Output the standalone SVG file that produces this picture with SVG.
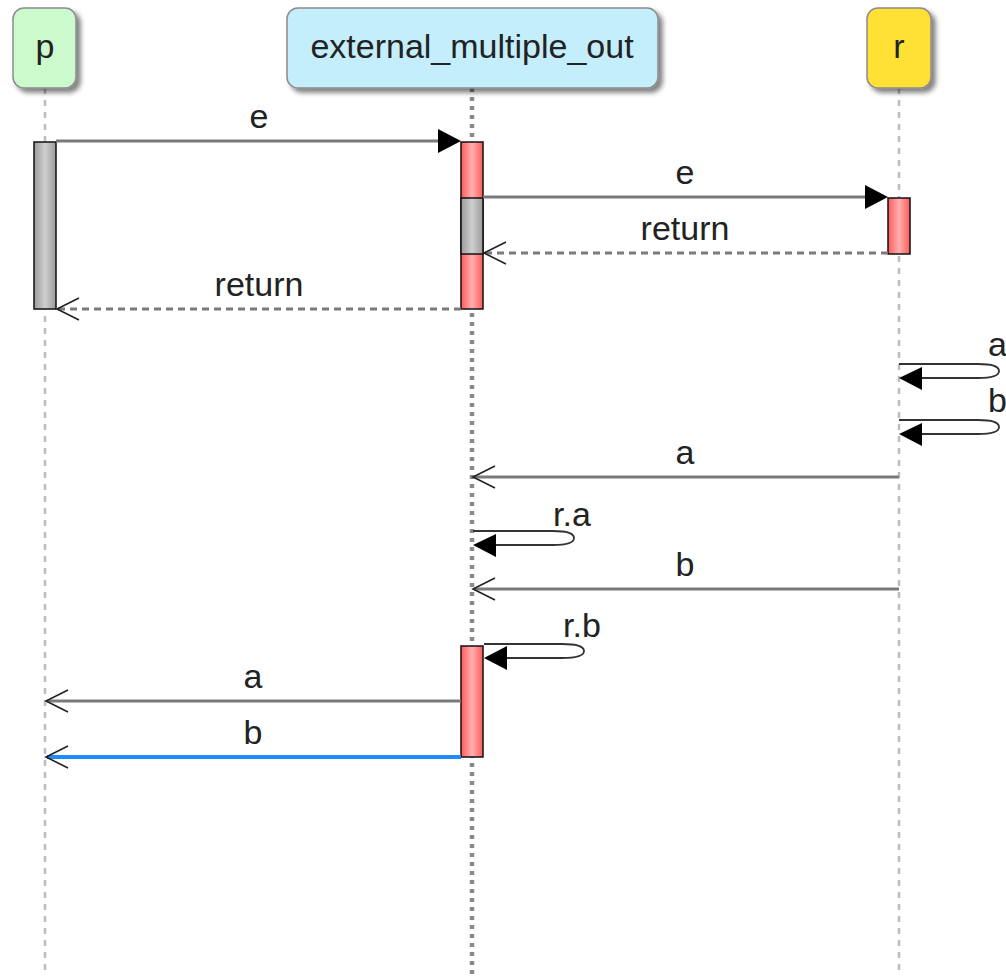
<svg xmlns="http://www.w3.org/2000/svg" width="1006" height="976" viewBox="0 0 1006 976">
<style>
text{font-family:"Liberation Sans",Arial,sans-serif;fill:#222;}
.pt{font-size:34px;text-anchor:middle;}
.lb{font-size:34px;text-anchor:middle;}
.box{stroke:#8c8c8c;stroke-width:1.5;filter:url(#sh);}
.ll{fill:none;stroke:#bdbdbd;stroke-width:2.5;stroke-dasharray:6,6;}
.llx{fill:none;stroke:#8a8a8a;stroke-width:4.5;stroke-dasharray:4,5;}
.msg{fill:none;stroke:#7a7a7a;stroke-width:3;}
.ret{fill:none;stroke:#7a7a7a;stroke-width:3;stroke-dasharray:7,5;}
.open{fill:none;stroke:#222;stroke-width:1.6;}
.tri{fill:#000;}
.loop{fill:none;stroke:#333;stroke-width:1.8;}
.actr{fill:url(#gr);stroke:#111;stroke-width:1.5;}
.actg{fill:url(#gg);stroke:#111;stroke-width:1.5;}
</style>
<defs>
<filter id="sh" x="-20%" y="-20%" width="150%" height="150%">
<feGaussianBlur in="SourceAlpha" stdDeviation="2.5"/>
<feOffset dx="4" dy="4" result="b"/>
<feComponentTransfer><feFuncA type="linear" slope="0.5"/></feComponentTransfer>
<feMerge><feMergeNode/><feMergeNode in="SourceGraphic"/></feMerge>
</filter>
<linearGradient id="gr" x1="0" y1="0" x2="1" y2="0">
<stop offset="0" stop-color="#ff5a5a"/><stop offset="0.5" stop-color="#ffb0b0"/><stop offset="1" stop-color="#ff5a5a"/>
</linearGradient>
<linearGradient id="gg" x1="0" y1="0" x2="1" y2="0">
<stop offset="0" stop-color="#9a9a9a"/><stop offset="0.5" stop-color="#cfcfcf"/><stop offset="1" stop-color="#9a9a9a"/>
</linearGradient>
</defs>
<rect width="1006" height="976" fill="#fff"/>
<g id="lifelines">
<line class="ll" x1="45" y1="88" x2="45" y2="976"/>
<line class="llx" x1="472" y1="88" x2="472" y2="976"/>
<line class="ll" x1="899" y1="88" x2="899" y2="976"/>
</g>
<g id="p">
<rect class="box" x="13" y="8" width="63" height="80" rx="11" fill="#cdfacd"/>
<text class="pt" x="45" y="58">p</text>
</g>
<g id="external_multiple_out">
<rect class="box" x="287" y="8" width="371" height="80" rx="11" fill="#c4eefc"/>
<text class="pt" x="472" y="58">external_multiple_out</text>
</g>
<g id="r">
<rect class="box" x="867" y="8" width="64" height="80" rx="11" fill="#ffe135"/>
<text class="pt" x="899" y="58">r</text>
</g>
<g id="activations">
<rect class="actg" x="34" y="142" width="22" height="167"/>
<rect class="actr" x="461" y="142" width="22" height="167"/>
<rect class="actg" x="461" y="198" width="22" height="56"/>
<rect class="actr" x="888" y="198" width="22" height="56"/>
<rect class="actr" x="461" y="646" width="22" height="111"/>
</g>
<g id="connectors">
<line class="msg" x1="56" y1="141" x2="440" y2="141"/>
<polygon class="tri" points="461,141 438,129 438,153"/>
<text class="lb" x="259" y="128">e</text>

<line class="msg" x1="483" y1="197" x2="867" y2="197"/>
<polygon class="tri" points="888,197 865,185 865,209"/>
<text class="lb" x="685" y="184">e</text>

<line class="ret" x1="888" y1="253" x2="485" y2="253"/>
<polyline class="open" points="506,242 484,253 506,264"/>
<text class="lb" x="685" y="240">return</text>

<line class="ret" x1="461" y1="309" x2="58" y2="309"/>
<polyline class="open" points="79,298 57,309 79,320"/>
<text class="lb" x="259" y="296">return</text>

<path class="loop" d="M899,364 L978,364 Q999,364 999,371 Q999,378 978,378 L920,378"/>
<polygon class="tri" points="899,378 922,367 922,390"/>
<text x="988" y="356" font-size="34">a</text>

<path class="loop" d="M899,420 L978,420 Q999,420 999,427 Q999,434 978,434 L920,434"/>
<polygon class="tri" points="899,434 922,423 922,446"/>
<text x="988" y="412" font-size="34">b</text>

<line class="msg" x1="899" y1="477" x2="474" y2="477"/>
<polyline class="open" points="495,466 473,477 495,488"/>
<text class="lb" x="685" y="464">a</text>

<path class="loop" d="M473,531 L553,531 Q574,531 574,538 Q574,545 553,545 L494,545"/>
<polygon class="tri" points="473,545 496,534 496,557"/>
<text x="553" y="526" font-size="34">r.a</text>

<line class="msg" x1="899" y1="589" x2="474" y2="589"/>
<polyline class="open" points="495,578 473,589 495,600"/>
<text class="lb" x="685" y="576">b</text>

<path class="loop" d="M484,644 L562,644 Q584,644 584,651 Q584,658 562,658 L505,658"/>
<polygon class="tri" points="484,658 507,646 507,670"/>
<text x="563" y="637" font-size="34">r.b</text>

<line class="msg" x1="461" y1="701" x2="47" y2="701"/>
<polyline class="open" points="68,690 46,701 68,712"/>
<text class="lb" x="253" y="688">a</text>

<line x1="461" y1="757" x2="47" y2="757" stroke="#1e8cff" stroke-width="4"/>
<polyline class="open" points="68,746 46,757 68,768"/>
<text class="lb" x="253" y="744">b</text>
</g>
</svg>
